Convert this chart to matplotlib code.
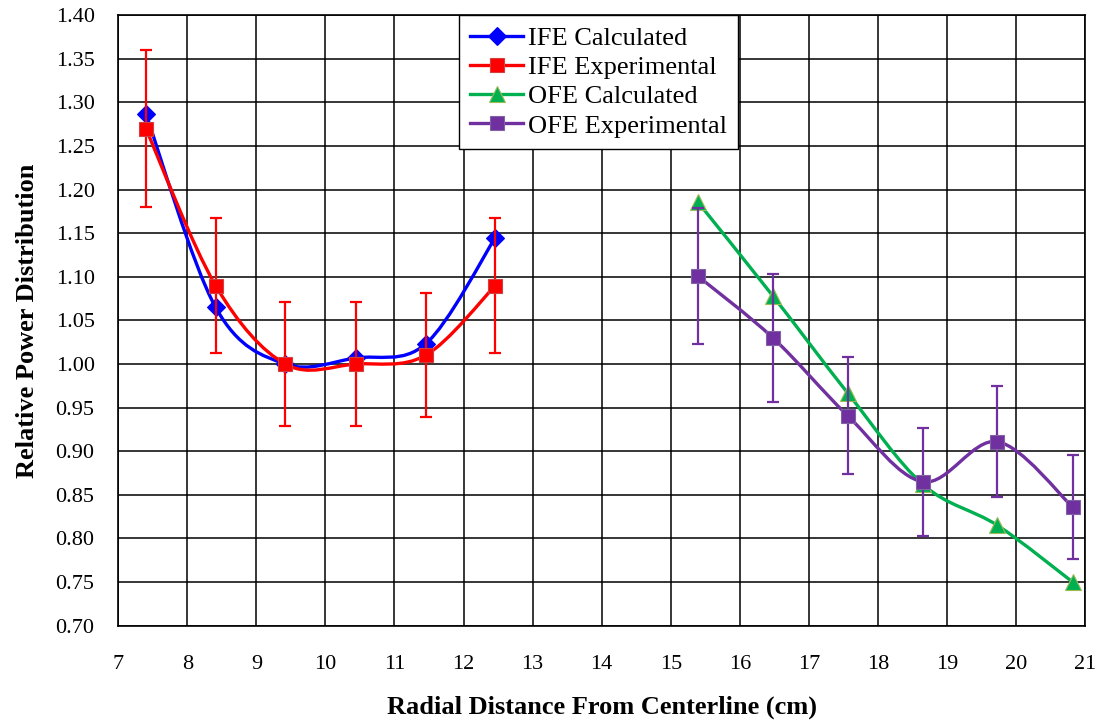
import numpy as np
import matplotlib
matplotlib.use('Agg')
import matplotlib.pyplot as plt
from matplotlib.path import Path
from matplotlib.patches import PathPatch
from matplotlib.lines import Line2D

plt.rcParams['font.family'] = ['Liberation Serif', 'DejaVu Serif']

# data
ife_x = [7.40, 8.41, 9.42, 10.44, 11.45, 12.46]
ife_calc = [1.287, 1.065, 1.000, 1.007, 1.023, 1.145]
ife_exp = [1.270, 1.090, 1.000, 1.000, 1.010, 1.090]
ife_err = [0.090, 0.077, 0.071, 0.071, 0.071, 0.077]

ofe_x = [15.39, 16.48, 17.56, 18.65, 19.73, 20.82]
ofe_calc = [1.186, 1.078, 0.967, 0.862, 0.815, 0.750]
ofe_exp = [1.101, 1.030, 0.941, 0.865, 0.911, 0.836]
ofe_err = [0.078, 0.073, 0.067, 0.062, 0.064, 0.060]

x_ticks = list(range(7, 22))
y_ticks = [0.70, 0.75, 0.80, 0.85, 0.90, 0.95, 1.00, 1.05, 1.10, 1.15,
           1.20, 1.25, 1.30, 1.35, 1.40]

BLUE = '#0000ff'
RED = '#ff0000'
GREEN = '#00b050'
PURPLE = '#7030a0'


def smooth_path(x, y, t=1/6):
    """Excel-like smoothed line as a cubic bezier path"""
    pts = np.column_stack([x, y]).astype(float)
    n = len(pts)
    verts = [pts[0]]
    codes = [Path.MOVETO]
    for i in range(n - 1):
        p0 = pts[i - 1] if i > 0 else pts[i]
        p1 = pts[i]
        p2 = pts[i + 1]
        p3 = pts[i + 2] if i + 2 < n else pts[i + 1]
        verts += [p1 + (p2 - p0) * t, p2 - (p3 - p1) * t, p2]
        codes += [Path.CURVE4] * 3
    return Path(verts, codes)


fig = plt.figure(figsize=(11.05, 7.25), dpi=100)
ax = fig.add_axes([0.107, 0.137, 0.875, 0.842])

series = [
    (ife_x, ife_calc, None, BLUE, 'D', 9, BLUE, 'IFE Calculated'),
    (ife_x, ife_exp, ife_err, RED, 's', 10.5, '#d04040', 'IFE Experimental'),
    (ofe_x, ofe_calc, None, GREEN, '^', 11, '#9bbb59', 'OFE Calculated'),
    (ofe_x, ofe_exp, ofe_err, PURPLE, 's', 10, '#8064a2', 'OFE Experimental'),
]

handles = []
for k, (xs, ys, err, col, mk, ms, mec, lab) in enumerate(series):
    z = 3 + k
    ax.add_patch(PathPatch(smooth_path(xs, ys), facecolor='none', edgecolor=col,
                           linewidth=2.4, zorder=z))
    if err is not None:
        ax.errorbar(xs, ys, yerr=err, fmt='none', ecolor=col, elinewidth=1.6,
                    capsize=4.5, capthick=1.6, zorder=z)
    ax.plot(xs, ys, linestyle='none', marker=mk, markersize=ms, color=col,
            markeredgecolor=mec, markeredgewidth=0.8, zorder=z + 0.5)
    handles.append(Line2D([], [], color=col, linewidth=2.4, marker=mk,
                          markersize=ms, markeredgecolor=mec, markeredgewidth=0.8))

ax.set_xlim(7, 21)
ax.set_ylim(0.70, 1.40)
ax.set_xticks(x_ticks)
ax.set_yticks(y_ticks)
ax.set_yticklabels([f'{v:.2f}' for v in y_ticks])
ax.tick_params(length=0, labelsize=16)
ax.tick_params(axis='x', pad=21)
ax.tick_params(axis='y', pad=17)
ax.grid(True, color='black', linewidth=1.1)
ax.set_axisbelow(True)
for sp in ax.spines.values():
    sp.set_color('black')
    sp.set_linewidth(1.2)

ax.set_xlabel('Radial Distance From Centerline (cm)', fontsize=19, fontweight='bold',
              labelpad=16)
ax.set_ylabel('Relative Power Distribution', fontsize=19, fontweight='bold', labelpad=12)

leg = ax.legend(handles, [s[-1] for s in series], loc='upper left',
                bbox_to_anchor=(0.3525, 1.0), fontsize=19, numpoints=1,
                handlelength=2.0, handletextpad=0.2, labelspacing=0.22,
                borderpad=0.42, borderaxespad=0.0, fancybox=False, framealpha=1)
leg.get_frame().set_edgecolor('black')
leg.get_frame().set_linewidth(1.0)
leg.set_zorder(10)

fig.savefig('out.png', dpi=100, facecolor='white')
